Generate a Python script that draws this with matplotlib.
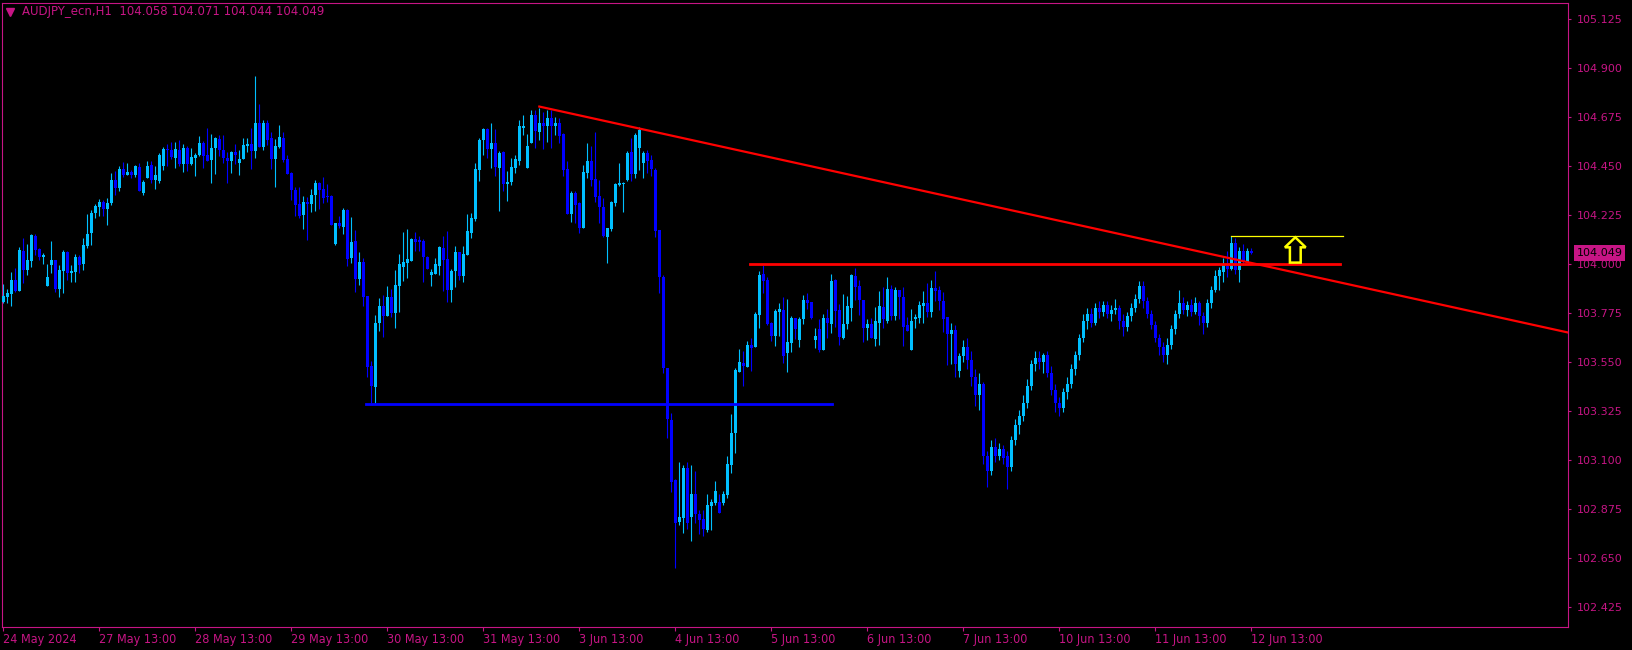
import numpy as np
import pandas as pd
import matplotlib
matplotlib.use('Agg')
import matplotlib.pyplot as plt
from matplotlib.patches import Polygon

# AUDJPY_ecn H1 bars, 24 May 13:00 .. 12 Jun 13:00
opens = [
    103.826, 103.849, 103.863, 103.926, 103.877, 104.059, 103.972, 104.015, 104.128, 104.068,
    104.031, 103.900, 103.995, 104.018, 103.885, 103.969, 104.054, 103.958, 103.963, 104.031,
    104.001, 104.082, 104.143, 104.233, 104.262, 104.284, 104.252, 104.281, 104.385, 104.349,
    104.435, 104.409, 104.423, 104.408, 104.444, 104.326, 104.395, 104.453, 104.386, 104.382,
    104.451, 104.527, 104.523, 104.488, 104.523, 104.459, 104.532, 104.459, 104.488, 104.500,
    104.555, 104.500, 104.477, 104.530, 104.573, 104.523, 104.485, 104.474, 104.512, 104.465,
    104.482, 104.541, 104.550, 104.520, 104.647, 104.538, 104.647, 104.576, 104.482, 104.538,
    104.576, 104.482, 104.419, 104.339, 104.275, 104.224, 104.286, 104.275, 104.316, 104.370,
    104.343, 104.311, 104.311, 104.091, 104.190, 104.171, 104.247, 104.028, 104.105, 103.930,
    104.007, 103.852, 103.531, 103.436, 103.730, 103.806, 103.762, 103.846, 103.773, 103.900,
    103.987, 104.005, 104.014, 104.114, 104.109, 104.105, 104.033, 103.949, 103.953, 103.991,
    104.074, 104.022, 103.880, 103.967, 104.053, 103.946, 104.043, 104.143, 104.206, 104.431,
    104.568, 104.619, 104.527, 104.553, 104.441, 104.512, 104.365, 104.374, 104.441, 104.474,
    104.625, 104.438, 104.553, 104.683, 104.607, 104.645, 104.633, 104.671, 104.633, 104.645,
    104.594, 104.434, 104.229, 104.324, 104.278, 104.166, 104.418, 104.472, 104.389, 104.311,
    104.262, 104.125, 104.158, 104.281, 104.362, 104.366, 104.385, 104.512, 104.412, 104.530,
    104.465, 104.508, 104.477, 104.431, 104.156, 103.942, 103.524, 103.284, 103.008, 102.817,
    102.835, 103.062, 102.840, 102.943, 102.851, 102.828, 102.779, 102.891, 102.904, 102.906,
    102.901, 102.940, 103.077, 103.226, 103.506, 103.547, 103.529, 103.628, 103.620, 103.766,
    103.954, 103.926, 103.727, 103.669, 103.781, 103.789, 103.590, 103.639, 103.754, 103.651,
    103.746, 103.834, 103.824, 103.651, 103.701, 103.605, 103.750, 103.724, 103.926, 103.789,
    103.659, 103.724, 103.799, 103.945, 103.899, 103.834, 103.707, 103.724, 103.655, 103.730,
    103.804, 103.738, 103.885, 103.761, 103.880, 103.850, 103.720, 103.605, 103.747, 103.753,
    103.807, 103.822, 103.778, 103.891, 103.880, 103.831, 103.758, 103.678, 103.697, 103.510,
    103.577, 103.620, 103.560, 103.480, 103.400, 103.450, 103.120, 103.050, 103.160, 103.120,
    103.150, 103.120, 103.070, 103.190, 103.260, 103.300, 103.360, 103.440, 103.540, 103.570,
    103.550, 103.580, 103.500, 103.420, 103.360, 103.340, 103.410, 103.450, 103.520, 103.580,
    103.660, 103.740, 103.770, 103.730, 103.800, 103.780, 103.810, 103.770, 103.790, 103.800,
    103.740, 103.710, 103.760, 103.800, 103.840, 103.900, 103.830, 103.770, 103.720, 103.660,
    103.620, 103.580, 103.630, 103.700, 103.770, 103.820, 103.790, 103.810, 103.780, 103.820,
    103.760, 103.730, 103.820, 103.881, 103.945, 103.965, 103.991, 103.976, 104.098, 103.970,
    104.057, 104.011, 104.058,
]
highs = [
    103.910, 103.885, 103.961, 103.979, 104.077, 104.120, 104.091, 104.137, 104.137, 104.074,
    104.051, 103.999, 104.105, 104.018, 103.995, 104.066, 104.059, 103.996, 104.045, 104.041,
    104.119, 104.229, 104.247, 104.273, 104.297, 104.293, 104.302, 104.417, 104.426, 104.449,
    104.467, 104.463, 104.430, 104.453, 104.463, 104.384, 104.472, 104.472, 104.449, 104.510,
    104.538, 104.550, 104.558, 104.558, 104.569, 104.550, 104.543, 104.532, 104.508, 104.587,
    104.566, 104.624, 104.596, 104.584, 104.592, 104.592, 104.512, 104.518, 104.549, 104.523,
    104.576, 104.576, 104.624, 104.862, 104.734, 104.661, 104.661, 104.607, 104.573, 104.638,
    104.607, 104.500, 104.423, 104.355, 104.355, 104.312, 104.309, 104.342, 104.385, 104.378,
    104.397, 104.366, 104.316, 104.190, 104.219, 104.255, 104.250, 104.216, 104.155, 104.053,
    104.028, 103.852, 103.554, 103.765, 103.842, 103.857, 103.898, 103.884, 103.972, 104.045,
    104.148, 104.160, 104.120, 104.148, 104.129, 104.114, 104.037, 103.975, 104.028, 104.083,
    104.129, 104.151, 103.975, 104.082, 104.053, 104.082, 104.229, 104.232, 104.464, 104.579,
    104.625, 104.625, 104.648, 104.619, 104.518, 104.518, 104.426, 104.484, 104.500, 104.660,
    104.683, 104.595, 104.706, 104.706, 104.717, 104.699, 104.706, 104.706, 104.676, 104.671,
    104.599, 104.472, 104.336, 104.334, 104.285, 104.454, 104.553, 104.542, 104.604, 104.385,
    104.301, 104.163, 104.288, 104.370, 104.461, 104.377, 104.518, 104.579, 104.599, 104.630,
    104.518, 104.523, 104.500, 104.439, 104.156, 103.949, 103.524, 103.317, 103.011, 103.093,
    103.077, 103.093, 103.077, 103.050, 102.871, 102.871, 102.944, 102.920, 103.004, 102.944,
    102.958, 103.119, 103.311, 103.521, 103.610, 103.601, 103.646, 103.659, 103.781, 103.968,
    103.995, 103.939, 103.732, 103.793, 103.819, 103.847, 103.839, 103.761, 103.754, 103.757,
    103.857, 103.865, 103.824, 103.704, 103.747, 103.769, 103.793, 103.954, 103.931, 103.815,
    103.862, 103.853, 103.954, 103.983, 103.926, 103.834, 103.747, 103.750, 103.804, 103.876,
    103.896, 103.938, 103.903, 103.893, 103.880, 103.893, 103.758, 103.793, 103.770, 103.830,
    103.876, 103.914, 103.926, 103.969, 103.899, 103.870, 103.758, 103.730, 103.720, 103.590,
    103.650, 103.660, 103.600, 103.520, 103.500, 103.460, 103.140, 103.190, 103.200, 103.180,
    103.170, 103.140, 103.210, 103.290, 103.330, 103.400, 103.470, 103.560, 103.600, 103.600,
    103.590, 103.600, 103.530, 103.450, 103.390, 103.430, 103.480, 103.540, 103.600, 103.680,
    103.770, 103.800, 103.800, 103.820, 103.830, 103.830, 103.830, 103.810, 103.840, 103.810,
    103.770, 103.780, 103.820, 103.860, 103.920, 103.920, 103.850, 103.790, 103.740, 103.680,
    103.640, 103.660, 103.720, 103.790, 103.880, 103.850, 103.830, 103.840, 103.850, 103.830,
    103.780, 103.840, 103.900, 103.972, 103.988, 104.026, 104.057, 104.129, 104.118, 104.077,
    104.092, 104.072, 104.071,
]
lows = [
    103.819, 103.822, 103.808, 103.872, 103.877, 103.911, 103.949, 103.987, 104.041, 104.018,
    103.999, 103.900, 103.957, 103.872, 103.849, 103.868, 103.926, 103.918, 103.918, 103.957,
    103.972, 104.073, 104.088, 104.212, 104.221, 104.221, 104.180, 104.271, 104.316, 104.334,
    104.400, 104.408, 104.392, 104.397, 104.334, 104.317, 104.395, 104.371, 104.343, 104.370,
    104.431, 104.451, 104.482, 104.442, 104.451, 104.423, 104.428, 104.454, 104.403, 104.497,
    104.442, 104.474, 104.373, 104.414, 104.497, 104.465, 104.373, 104.419, 104.459, 104.410,
    104.482, 104.512, 104.436, 104.488, 104.538, 104.523, 104.546, 104.436, 104.355, 104.534,
    104.469, 104.413, 104.293, 104.221, 104.209, 104.160, 104.110, 104.240, 104.244, 104.252,
    104.281, 104.285, 104.178, 104.086, 104.167, 104.137, 103.991, 104.005, 103.872, 103.903,
    103.808, 103.482, 103.360, 103.360, 103.693, 103.666, 103.762, 103.757, 103.707, 103.780,
    103.923, 103.936, 104.014, 104.060, 104.060, 103.918, 103.976, 103.900, 103.953, 103.949,
    103.875, 103.826, 103.826, 103.895, 103.926, 103.918, 104.043, 104.117, 104.198, 104.382,
    104.500, 104.487, 104.441, 104.405, 104.244, 104.334, 104.288, 104.362, 104.418, 104.454,
    104.591, 104.438, 104.553, 104.533, 104.568, 104.527, 104.561, 104.533, 104.591, 104.553,
    104.403, 104.229, 104.194, 104.189, 104.140, 104.166, 104.396, 104.359, 104.285, 104.189,
    104.125, 104.002, 104.151, 104.266, 104.359, 104.240, 104.380, 104.380, 104.393, 104.430,
    104.396, 104.416, 104.404, 104.125, 103.868, 103.498, 103.203, 102.955, 102.603, 102.802,
    102.767, 102.782, 102.730, 102.809, 102.761, 102.751, 102.771, 102.779, 102.894, 102.858,
    102.894, 102.927, 103.042, 103.134, 103.506, 103.441, 103.529, 103.509, 103.620, 103.708,
    103.868, 103.720, 103.646, 103.625, 103.669, 103.547, 103.506, 103.597, 103.654, 103.620,
    103.724, 103.792, 103.747, 103.616, 103.597, 103.605, 103.658, 103.684, 103.712, 103.628,
    103.655, 103.701, 103.738, 103.834, 103.766, 103.643, 103.651, 103.659, 103.625, 103.628,
    103.704, 103.730, 103.743, 103.743, 103.746, 103.625, 103.694, 103.605, 103.707, 103.727,
    103.730, 103.755, 103.758, 103.831, 103.789, 103.686, 103.536, 103.541, 103.483, 103.480,
    103.550, 103.520, 103.440, 103.350, 103.330, 103.080, 102.975, 103.030, 103.090, 103.100,
    103.080, 102.965, 103.050, 103.170, 103.220, 103.280, 103.340, 103.420, 103.510, 103.520,
    103.500, 103.480, 103.400, 103.320, 103.300, 103.320, 103.380, 103.430, 103.490, 103.560,
    103.640, 103.700, 103.710, 103.720, 103.750, 103.760, 103.750, 103.740, 103.770, 103.700,
    103.670, 103.690, 103.740, 103.780, 103.820, 103.800, 103.750, 103.700, 103.640, 103.580,
    103.550, 103.540, 103.610, 103.680, 103.750, 103.770, 103.760, 103.760, 103.770, 103.720,
    103.680, 103.710, 103.800, 103.870, 103.880, 103.919, 103.942, 103.970, 103.954, 103.919,
    104.003, 104.011, 104.044,
]
closes = [
    103.852, 103.866, 103.926, 103.875, 104.064, 103.972, 104.018, 104.132, 104.064, 104.031,
    104.041, 103.940, 104.018, 103.885, 103.972, 104.054, 103.960, 103.967, 104.031, 103.996,
    104.086, 104.137, 104.233, 104.265, 104.284, 104.252, 104.279, 104.385, 104.349, 104.435,
    104.409, 104.421, 104.408, 104.449, 104.334, 104.375, 104.449, 104.386, 104.408, 104.499,
    104.527, 104.523, 104.492, 104.527, 104.459, 104.532, 104.459, 104.491, 104.501, 104.555,
    104.497, 104.474, 104.532, 104.579, 104.523, 104.485, 104.474, 104.512, 104.501, 104.482,
    104.546, 104.550, 104.520, 104.647, 104.538, 104.647, 104.569, 104.482, 104.543, 104.584,
    104.477, 104.413, 104.339, 104.270, 104.221, 104.286, 104.275, 104.316, 104.370, 104.339,
    104.304, 104.308, 104.178, 104.186, 104.175, 104.247, 104.022, 104.099, 103.930, 104.007,
    103.849, 103.528, 103.439, 103.727, 103.806, 103.762, 103.846, 103.773, 103.903, 103.999,
    104.007, 104.022, 104.114, 104.102, 104.102, 104.033, 103.976, 103.964, 103.999, 104.079,
    104.017, 103.880, 103.967, 104.053, 103.946, 104.045, 104.151, 104.209, 104.434, 104.568,
    104.619, 104.527, 104.553, 104.446, 104.510, 104.365, 104.374, 104.443, 104.481, 104.633,
    104.633, 104.541, 104.683, 104.611, 104.645, 104.633, 104.671, 104.633, 104.645, 104.588,
    104.431, 104.229, 104.324, 104.270, 104.163, 104.420, 104.472, 104.385, 104.308, 104.262,
    104.128, 104.163, 104.285, 104.366, 104.370, 104.373, 104.507, 104.412, 104.591, 104.615,
    104.508, 104.470, 104.434, 104.153, 103.942, 103.524, 103.287, 103.001, 102.809, 102.837,
    103.062, 102.812, 102.943, 102.851, 102.825, 102.782, 102.894, 102.909, 102.958, 102.858,
    102.944, 103.082, 103.223, 103.513, 103.552, 103.532, 103.628, 103.616, 103.770, 103.949,
    103.923, 103.724, 103.669, 103.784, 103.793, 103.578, 103.643, 103.754, 103.700, 103.747,
    103.834, 103.822, 103.750, 103.669, 103.605, 103.750, 103.730, 103.922, 103.786, 103.666,
    103.724, 103.807, 103.949, 103.896, 103.834, 103.707, 103.724, 103.659, 103.738, 103.807,
    103.746, 103.885, 103.761, 103.880, 103.850, 103.712, 103.694, 103.738, 103.758, 103.811,
    103.822, 103.778, 103.891, 103.877, 103.831, 103.747, 103.678, 103.697, 103.539, 103.577,
    103.620, 103.560, 103.480, 103.400, 103.450, 103.120, 103.050, 103.160, 103.120, 103.150,
    103.110, 103.070, 103.190, 103.260, 103.300, 103.360, 103.440, 103.540, 103.570, 103.550,
    103.580, 103.500, 103.420, 103.360, 103.340, 103.410, 103.450, 103.520, 103.580, 103.660,
    103.740, 103.770, 103.730, 103.800, 103.780, 103.810, 103.770, 103.790, 103.800, 103.740,
    103.710, 103.760, 103.800, 103.840, 103.900, 103.830, 103.770, 103.720, 103.660, 103.620,
    103.580, 103.630, 103.700, 103.770, 103.820, 103.790, 103.810, 103.780, 103.820, 103.760,
    103.730, 103.820, 103.880, 103.945, 103.970, 103.996, 103.976, 104.098, 103.970, 104.057,
    104.011, 104.060, 104.049,
]

# drawn objects (bar index, price)
trend_pts = [(134, 104.722), (391, 103.686)]
res_level, res_from, res_to = 104.000, 186.7, 334.2
sup_level, sup_from, sup_to = 103.356, 90.8, 207.2
brk_level, brk_from, brk_to = 104.128, 307, 335
arrow_x, arrow_lo, arrow_hi = 323, 104.006, 104.122

price_ticks = [105.125, 104.900, 104.675, 104.450, 104.225, 104.000,
               103.775, 103.550, 103.325, 103.100, 102.875, 102.650, 102.425]

MAG = '#C71585'
BULL = '#00BFFF'
BEAR = '#0000FF'

o = np.array(opens); h = np.array(highs); l = np.array(lows); c = np.array(closes)
h = np.maximum(h, np.maximum(o, c))
l = np.minimum(l, np.minimum(o, c))
n = len(c)
x = np.arange(n)

times = pd.date_range('2024-05-24 13:00', periods=24 * 20, freq='h')
times = times[times.dayofweek < 5][:n]

fig = plt.figure(figsize=(16.33, 6.5), dpi=100, facecolor='black')
ax = fig.add_axes([2.5 / 1633, 23 / 650, 1566 / 1633, 624.5 / 650])
ax.set_facecolor('black')

cols = np.where(c >= o, BULL, BEAR)
ax.vlines(x, l, h, colors=cols, linewidth=0.8, zorder=2)
body = np.maximum(np.abs(c - o), 0.004)
ax.bar(x, body, bottom=np.minimum(o, c), width=0.72, color=cols,
       linewidth=0, zorder=3)

# lines
(x1, y1), (x2, y2) = trend_pts
ax.plot([x1, x2], [y1, y2], color='#FF0000', lw=1.6, zorder=5)
ax.plot([res_from, res_to], [res_level, res_level], color='#FF0000', lw=2.0, zorder=5)
ax.plot([sup_from, sup_to], [sup_level, sup_level], color='#0000FF', lw=2.0, zorder=5)
ax.plot([brk_from, brk_to], [brk_level, brk_level], color='#FFFF00', lw=0.9, zorder=5)

# up arrow (outline)
head = arrow_hi - 10 * 0.004588
shaft, hw = 1.35, 2.6
arr = Polygon([(arrow_x - shaft, arrow_lo), (arrow_x + shaft, arrow_lo),
               (arrow_x + shaft, head), (arrow_x + hw, head),
               (arrow_x, arrow_hi), (arrow_x - hw, head),
               (arrow_x - shaft, head)], closed=True,
              facecolor='none', edgecolor='#FFFF00', lw=1.8, zorder=6)
ax.add_patch(arr)

ax.set_xlim(-0.2, 391.3)
ax.set_ylim(102.334, 105.1995)

for s in ax.spines.values():
    s.set_color(MAG)
    s.set_linewidth(0.8)

ax.yaxis.tick_right()
ax.set_yticks(price_ticks)
ax.set_yticklabels([f'{p:.3f}' for p in price_ticks])
ax.tick_params(axis='y', colors=MAG, labelcolor=MAG, labelsize=8,
               length=2.2, width=0.8, pad=4)

tick_idx = [i for i, t in enumerate(times) if t.hour == 13]
tick_lab = []
for k, i in enumerate(tick_idx):
    t = times[i]
    if k == 0:
        tick_lab.append(f'{t.day} {t:%b %Y}')
    else:
        tick_lab.append(f'{t.day} {t:%b %H:%M}')
ax.set_xticks(tick_idx)
ax.set_xticklabels(tick_lab, ha='left', fontfamily='DejaVu Sans',
                   fontstretch='condensed', fontsize=9)
ax.tick_params(axis='x', colors=MAG, labelcolor=MAG, length=3, width=0.8, pad=1.5)

# current price box
ax.annotate(f'{c[-1]:.3f}', xy=(1, c[-1]), xycoords=('axes fraction', 'data'),
            xytext=(8, 0), textcoords='offset pixels', ha='left', va='center',
            fontsize=8, color='black', annotation_clip=False, zorder=10,
            bbox=dict(boxstyle='square,pad=0.25', fc=MAG, ec='none'))

# symbol header
ax.plot([0.0051], [0.9848], marker='v', ms=6, color=MAG, transform=ax.transAxes,
        clip_on=False, zorder=10)
ax.text(0.0123, 0.9848,
        f'AUDJPY_ecn,H1  {o[-1]:.3f} {h[-1]:.3f} {l[-1]:.3f} {c[-1]:.3f}',
        transform=ax.transAxes, ha='left', va='center', fontsize=8.5, color=MAG)

fig.savefig('out.png', dpi=100, facecolor='black')
